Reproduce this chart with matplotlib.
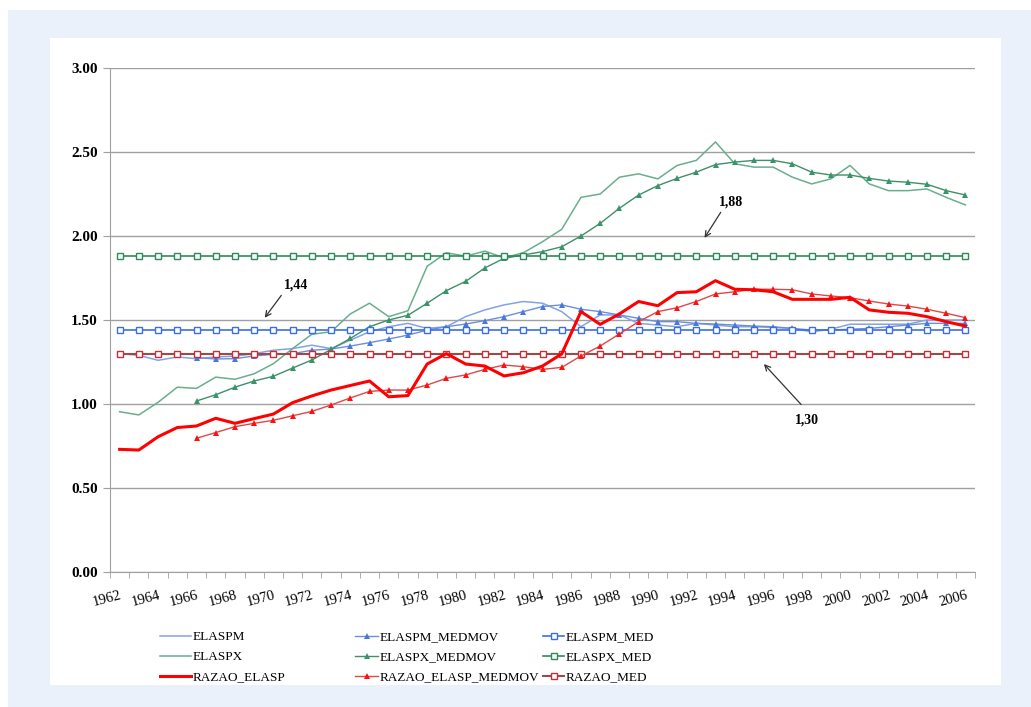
import numpy as np
import matplotlib.pyplot as plt
from matplotlib.patches import Rectangle

years = list(range(1962, 2007))
mm_years = list(range(1966, 2007))

elaspm = [1.30, 1.29, 1.26, 1.28, 1.27, 1.28, 1.285, 1.30, 1.32, 1.33,
          1.35, 1.33, 1.38, 1.43, 1.46, 1.48, 1.45, 1.46, 1.52, 1.56,
          1.59, 1.61, 1.60, 1.55, 1.46, 1.53, 1.53, 1.48, 1.47, 1.46,
          1.48, 1.47, 1.46, 1.46, 1.455, 1.45, 1.43, 1.445, 1.475, 1.475,
          1.475, 1.475, 1.50, 1.50, 1.50]
elaspm_medmov = [1.276, 1.268, 1.27, 1.286, 1.296, 1.30, 1.32, 1.327, 1.345, 1.365,
                 1.387, 1.41, 1.44, 1.46, 1.476, 1.496, 1.52, 1.55, 1.58, 1.59,
                 1.564, 1.55, 1.53, 1.51, 1.49, 1.49, 1.48, 1.476, 1.47, 1.464,
                 1.46, 1.45, 1.44, 1.44, 1.445, 1.45, 1.46, 1.47, 1.48, 1.48, 1.48]
elaspm_med = 1.44

elaspx = [0.954, 0.935, 1.01, 1.10, 1.093, 1.16, 1.147, 1.18, 1.24, 1.33,
          1.415, 1.43, 1.536, 1.60, 1.52, 1.555, 1.82, 1.90, 1.88, 1.91,
          1.87, 1.90, 1.966, 2.04, 2.23, 2.25, 2.35, 2.37, 2.34, 2.42,
          2.45, 2.56, 2.43, 2.41, 2.41, 2.35, 2.31, 2.34, 2.42, 2.31,
          2.27, 2.27, 2.28, 2.23, 2.185]
elaspx_medmov = [1.018, 1.055, 1.10, 1.137, 1.165, 1.214, 1.262, 1.325, 1.39, 1.46,
                 1.50, 1.528, 1.60, 1.675, 1.73, 1.81, 1.867, 1.887, 1.907, 1.936,
                 2.00, 2.075, 2.165, 2.244, 2.30, 2.343, 2.38, 2.425, 2.44, 2.45,
                 2.45, 2.43, 2.38, 2.363, 2.363, 2.343, 2.327, 2.32, 2.308, 2.27, 2.244]
elaspx_med = 1.88

razao = [0.73, 0.726, 0.805, 0.86, 0.869, 0.915, 0.885, 0.913, 0.94, 1.008,
         1.048, 1.083, 1.11, 1.137, 1.043, 1.05, 1.238, 1.30, 1.238, 1.226,
         1.167, 1.186, 1.226, 1.298, 1.55, 1.474, 1.536, 1.61, 1.585, 1.663,
         1.668, 1.734, 1.683, 1.68, 1.668, 1.623, 1.623, 1.623, 1.635, 1.56,
         1.546, 1.54, 1.52, 1.49, 1.464]
razao_medmov = [0.796, 0.83, 0.865, 0.885, 0.903, 0.93, 0.956, 0.994, 1.036, 1.075,
                1.083, 1.083, 1.113, 1.153, 1.173, 1.206, 1.232, 1.222, 1.206, 1.218,
                1.286, 1.345, 1.417, 1.49, 1.55, 1.573, 1.61, 1.655, 1.668, 1.683,
                1.683, 1.68, 1.655, 1.643, 1.633, 1.613, 1.595, 1.583, 1.564, 1.54, 1.514]
razao_med = 1.30

plt.rcParams['font.family'] = 'Liberation Serif'

fig = plt.figure(figsize=(10.31, 7.07), dpi=100, facecolor='white')
fig.patches.append(Rectangle((8/1031, 0), 1 - 8/1031, 1 - 10/707, transform=fig.transFigure,
                             facecolor='#eaf1fa', edgecolor='none', zorder=-3))
fig.patches.append(Rectangle((50/1031, (707-685)/707), 951/1031, 647/707, transform=fig.transFigure,
                             facecolor='white', edgecolor='none', zorder=-2))

ax = fig.add_axes([110/1031, (707-572)/707, 865/1031, 504/707])
ax.set_facecolor('none')

x = np.arange(len(years))
xm = np.arange(len(mm_years)) + (mm_years[0] - years[0])
ones = np.ones(len(years))

sq = dict(marker='s', markersize=5, markerfacecolor='white', markeredgewidth=1)
tri = dict(marker='^', markersize=5, markeredgewidth=0)

lines = []
lines.append(ax.plot(x, elaspm, color='#86a2e6', lw=1.1, label='ELASPM')[0])
lines.append(ax.plot(x, elaspx, color='#6aae8e', lw=1.1, label='ELASPX')[0])
lines.append(ax.plot(x, razao, color='#ff0000', lw=2.2, label='RAZAO_ELASP', zorder=5)[0])
lines.append(ax.plot(xm, elaspm_medmov, color='#6a8fdc', lw=1, markerfacecolor='#4a78d8',
                     label='ELASPM_MEDMOV', **tri)[0])
lines.append(ax.plot(xm, elaspx_medmov, color='#3f8f68', lw=1, markerfacecolor='#3a946a',
                     label='ELASPX_MEDMOV', **tri)[0])
lines.append(ax.plot(xm, razao_medmov, color='#e04848', lw=1, markerfacecolor='#ff1010',
                     label='RAZAO_ELASP_MEDMOV', zorder=4, **tri)[0])
lines.append(ax.plot(x, ones * elaspm_med, color='#3d6fdc', lw=1.2, markeredgecolor='#3d6fdc',
                     label='ELASPM_MED', **sq)[0])
lines.append(ax.plot(x, ones * elaspx_med, color='#2f8a5a', lw=1.2, markeredgecolor='#2f8a5a',
                     label='ELASPX_MED', **sq)[0])
lines.append(ax.plot(x, ones * razao_med, color='#a04848', lw=1.5, markeredgecolor='#c43038',
                     label='RAZAO_MED', **sq)[0])

ax.set_xlim(-0.5, len(years) - 0.5)
ax.set_ylim(0, 3)
ax.set_yticks(np.arange(0, 3.01, 0.5))
ax.set_yticklabels([f'{v:.2f}' for v in np.arange(0, 3.01, 0.5)], fontsize=11, fontweight='bold')
ax.grid(axis='y', color='#a0a0a0', lw=1)
ax.set_axisbelow(True)

ax.set_xticks(np.arange(-0.5, len(years), 1), minor=True)
ax.set_xticks(x[::2])
ax.set_xticklabels([str(y) for y in years[::2]], rotation=15, ha='right',
                   rotation_mode='anchor', fontsize=10.5)
ax.tick_params(axis='x', which='major', length=0, pad=12)
ax.tick_params(axis='x', which='minor', length=4, color='#a0a0a0')
ax.tick_params(axis='y', length=5, color='#a0a0a0', pad=4)
for s in ['top', 'right']:
    ax.spines[s].set_visible(False)
for s in ['left', 'bottom']:
    ax.spines[s].set_color('#a0a0a0')

def ix(year):
    return year - years[0]

arr = dict(arrowstyle='->', color='#333333', lw=0.9)
ax.annotate('', xy=(ix(1969.46), 1.50), xytext=(ix(1970.5), 1.66), arrowprops=arr)
ax.text(ix(1971.2), 1.71, '1,44', fontsize=10, fontweight='bold', ha='center', va='center')
ax.annotate('', xy=(ix(1992.35), 1.975), xytext=(ix(1993.35), 2.155), arrowprops=arr)
ax.text(ix(1993.8), 2.20, '1,88', fontsize=10, fontweight='bold', ha='center', va='center')
ax.annotate('', xy=(ix(1995.42), 1.25), xytext=(ix(1997.55), 0.985), arrowprops=arr)
ax.text(ix(1997.76), 0.905, '1,30', fontsize=10, fontweight='bold', ha='center', va='center')

# three legend columns, placed like the original
cols = [lines[0:3], lines[3:6], lines[6:9]]
xpos = [160, 355, 543]
hlen = [2.35, 1.75, 1.6]
for hs, xp, hl in zip(cols, xpos, hlen):
    fig.legend(handles=hs, loc='upper left', bbox_to_anchor=(xp/1031, (707-631)/707),
               frameon=False, fontsize=9.5, borderpad=0, borderaxespad=0,
               handlelength=hl, handletextpad=0.1, labelspacing=0.6, markerscale=0.8)

plt.savefig('out.png', dpi=100)
